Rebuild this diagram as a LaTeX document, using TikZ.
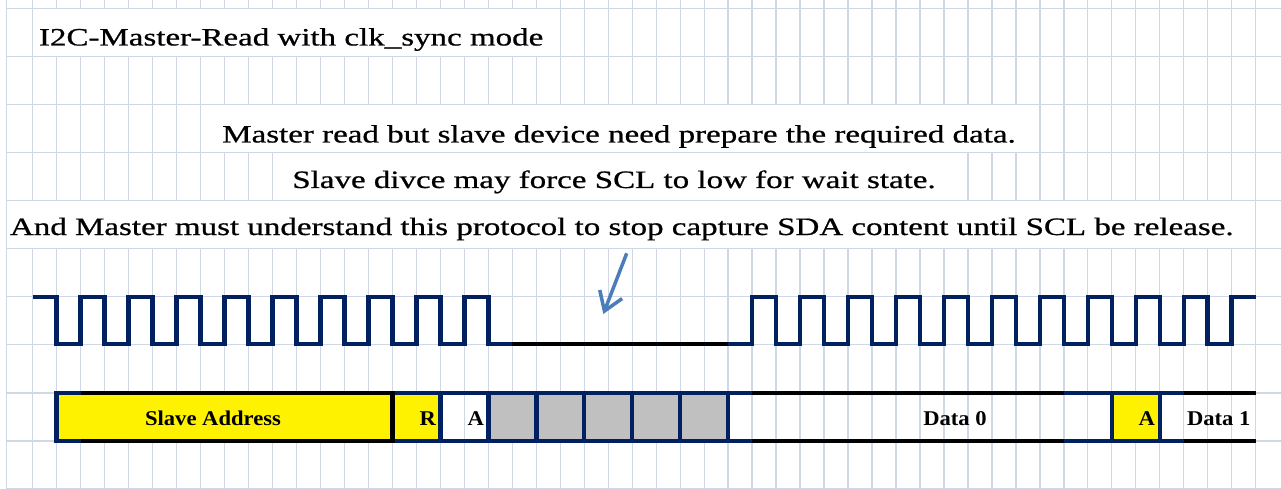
\documentclass[tikz,border=0pt]{standalone}
\usepackage{graphicx}
\usepackage{fontspec}
\setmainfont{Liberation Serif}
\newfontfamily\heavyserif{Liberation Serif}[FakeBold=0.6]
\usetikzlibrary{arrows.meta}
\definecolor{gridc}{RGB}{208,215,229}
\definecolor{navy}{RGB}{0,32,96}
\definecolor{arrowc}{RGB}{74,126,187}
\definecolor{greyc}{RGB}{192,192,192}
\newcommand\GX[1]{(32.7+23.98*(#1))}
\newcommand\GY[1]{(8.3+48.07*(#1))}
\newcommand\maintext[1]{\scalebox{1.32}[1]{\heavyserif\fontsize{25}{30}\selectfont #1}}
\newcommand\bustext[1]{\scalebox{1.076}[1]{\fontsize{21}{25}\selectfont\bfseries #1}}
\begin{document}
\begin{tikzpicture}[x=1pt,y=-1pt,
  gridline/.style={draw=gridc,line width=1.3pt},
  mergecell/.style={fill=white,draw=none},
  clk/.style={draw=navy,line width=4.5pt,line join=miter},
  clkhold/.style={draw=black,line width=4.5pt},
  busline/.style={line width=4.5pt},
  txt/.style={inner sep=0pt,outer sep=0pt},
  arrowline/.style={draw=arrowc,line width=3.5pt,-{Straight Barb[length=18pt,width=24pt]}}]
\useasboundingbox (0,0) rectangle (1281,489);
\fill[white] (0,0) rectangle (1281,489);
% grid
\foreach \k in {0,...,51} \draw[gridline] ({\GX{\k}},0) -- ({\GX{\k}},489);
\draw[gridline] (6.7,0) -- (6.7,489);
\foreach \j in {0,...,10} \draw[gridline] (6.7,{\GY{\j}}) -- (1281,{\GY{\j}});
% merged text cells
\fill[mergecell] ({\GX{0}+0.65},{\GY{0}+0.65}) rectangle ({\GX{22}-0.65},{\GY{1}-0.65});
\fill[mergecell] ({\GX{7}+0.65},{\GY{2}+0.65}) rectangle ({\GX{42}-0.65},{\GY{3}-0.65});
\fill[mergecell] ({\GX{10}+0.65},{\GY{3}+0.65}) rectangle ({\GX{39}-0.65},{\GY{4}-0.65});
\fill[mergecell] (7.35,{\GY{4}+0.65}) rectangle ({\GX{51}-0.65},{\GY{5}-0.65});
% texts
\node[txt,anchor=base west] (t1) at (39,45.5) {\maintext{I2C-Master-Read with clk\_sync mode}};
\node[txt,anchor=base] (t3) at (619,142.5) {\maintext{Master read but slave device need prepare the required data.}};
\node[txt,anchor=base] (t4) at (614,188) {\maintext{Slave divce may force SCL to low for wait state.}};
\node[txt,anchor=base west] (t5) at (10,235) {\maintext{And Master must understand this protocol to stop capture SDA content until SCL be release.}};
% arrow
\coordinate (arrS) at (626.7,253.3);
\coordinate (arrT) at (603.3,314);
\draw[arrowline] (arrS) -- (arrT);
% clock
\def\hi{297.2}
\def\lo{344.2}
\draw[clk] ({\GX{0}},\hi) \foreach \k in {1,3,...,17} { -- ({\GX{\k}},\hi) -- ({\GX{\k}},\lo) -- ({\GX{\k+1}},\lo) -- ({\GX{\k+1}},\hi) } -- ({\GX{19}},\hi) -- ({\GX{19}},\lo) -- ({\GX{20}},\lo);
\draw[clkhold] ({\GX{20}},\lo) -- ({\GX{29}},\lo);
\draw[clk] ({\GX{29}},\lo) -- ({\GX{30}},\lo) \foreach \k in {30,32,...,48} { -- ({\GX{\k}},\hi) -- ({\GX{\k+1}},\hi) -- ({\GX{\k+1}},\lo) -- ({\GX{\k+2}},\lo) } -- ({\GX{50}},\hi) -- ({\GX{51}},\hi);
% bus fills
\def\bt{393}
\def\bb{441}
\fill[yellow] ({\GX{1}},\bt) rectangle ({\GX{17}},\bb);
\foreach \k in {19,21,...,27} \fill[greyc] ({\GX{\k}},\bt) rectangle ({\GX{\k+2}},\bb);
\fill[yellow] ({\GX{45}},\bt) rectangle ({\GX{47}},\bb);
% bus borders
\foreach \a/\b/\c in {1/2/navy,2/15/black,15/30/navy,30/43/black,43/48/navy,48/51/black} {
  \draw[busline,draw=\c] ({\GX{\a}},\bt) -- ({\GX{\b}},\bt);
  \draw[busline,draw=\c] ({\GX{\a}},\bb) -- ({\GX{\b}},\bb);
}
\foreach \k in {1,17,19,21,23,25,27,29,45,47} \draw[busline,draw=navy] ({\GX{\k}},{\bt-2.25}) -- ({\GX{\k}},{\bb+2.25});
\draw[busline,draw=black] ({\GX{15}},{\bt-2.25}) -- ({\GX{15}},{\bb+2.25});
% bus labels
\node[txt,anchor=base] (bSA) at (213,425.5) {\bustext{Slave Address}};
\node[txt,anchor=base east] (bR) at (436,425.5) {\bustext{R}};
\node[txt,anchor=base east] (bA1) at (484,425.5) {\bustext{A}};
\node[txt,anchor=base] (bD0) at (955,425.5) {\bustext{Data 0}};
\node[txt,anchor=base east] (bA2) at (1155,425.5) {\bustext{A}};
\node[txt,anchor=base west] (bD1) at (1187,425.5) {\bustext{Data 1}};
\end{tikzpicture}
\end{document}
